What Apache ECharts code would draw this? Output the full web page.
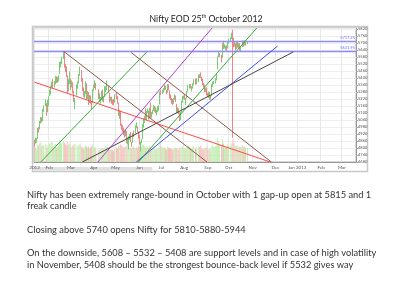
<!DOCTYPE html>
<html><head><meta charset="utf-8">
<script src="https://cdn.jsdelivr.net/npm/echarts@6/dist/echarts.min.js"></script>
<style>html,body{margin:0;padding:0;background:#fff}#c{width:400px;height:300px}</style>
</head><body><div id="c"></div>
<script>
// Daily Nifty candles, one entry per weekday from 12 Jan 2012: [open, close, low, high]; null = market holiday
const jan2012 = [[4860,4831,4813,4868],[4840,4867,4838,4890],[4867,4873,4846,4885],[4880,4967,4878,4971],[4970,4955,4932,4980],[4970,5018,4962,5033],[5030,5049,5010,5066],[5050,5046,5020,5065],[5040,5128,5030,5134],[5130,5158,5110,5166],null,[5170,5205,5158,5217],[5180,5087,5076,5185],[5110,5199,5107,5213]];
const feb2012 = [[5210,5236,5159,5243],[5250,5270,5245,5300],[5280,5326,5260,5335],[5340,5361,5320,5370],[5370,5335,5310,5392],[5340,5368,5320,5375],[5360,5412,5346,5420],[5400,5381,5358,5415],[5380,5390,5360,5410],[5400,5416,5370,5425],[5440,5532,5435,5538],[5520,5521,5490,5545],[5540,5564,5520,5582],null,[5570,5607,5565,5630],[5600,5505,5490,5625],[5500,5483,5450,5520],[5480,5429,5410,5500],[5420,5281,5270,5425],[5290,5375,5285,5390],[5380,5385,5350,5458]];
const mar2012 = [[5380,5339,5300,5395],[5350,5359,5320,5380],[5360,5280,5270,5365],[5270,5222,5195,5290],[5200,5220,5135,5230],null,[5260,5333,5250,5345],[5340,5359,5310,5370],[5360,5429,5355,5435],[5430,5463,5420,5499],[5460,5380,5370,5470],[5390,5318,5290,5400],[5310,5257,5240,5320],[5260,5274,5230,5290],[5270,5364,5265,5372],[5350,5228,5210,5355],[5230,5278,5220,5290],[5270,5184,5170,5280],[5190,5243,5185,5255],[5240,5194,5180,5250],[5190,5178,5135,5200],[5190,5296,5185,5305]];
const apr2012 = [[5300,5317,5290,5345],[5320,5358,5315,5380],[5350,5322,5300,5360],null,null,[5300,5234,5220,5305],[5240,5243,5200,5270],[5220,5226,5180,5240],[5230,5276,5215,5290],[5280,5207,5200,5300],[5200,5226,5190,5240],[5240,5289,5235,5330],[5300,5300,5280,5330],[5310,5333,5295,5380],[5320,5290,5275,5340],[5270,5200,5190,5275],[5210,5222,5200,5240],[5220,5202,5180,5240],[5200,5189,5170,5215],[5200,5190,5165,5220],[5200,5248,5190,5260]];
const may2012 = [null,[5250,5239,5220,5279],[5230,5188,5180,5245],[5180,5087,5075,5190],[5060,5114,5050,5125],[5110,4999,4990,5120],[4990,4974,4955,5010],[4980,4965,4940,4995],[4950,4928,4910,4975],[4930,4907,4890,4950],[4910,4942,4900,4960],[4930,4858,4840,4945],[4870,4870,4830,4890],[4860,4891,4788,4900],[4890,4906,4870,4920],[4920,4861,4850,4935],[4840,4836,4810,4850],[4850,4921,4845,4930],[4930,4920,4895,4950],[4930,4985,4925,4995],[4990,4990,4970,5020],[4980,4950,4935,4985],[4930,4924,4880,4940]];
const jun2012 = [[4910,4841,4830,4915],[4800,4848,4770,4855],[4850,4863,4840,4880],[4880,4997,4878,5005],[4980,5049,4975,5055],[5030,5068,5015,5075],[5090,5054,5045,5140],[5050,5115,5040,5120],[5120,5121,5100,5140],[5110,5054,5045,5120],[5060,5139,5055,5145],[5140,5064,5055,5190],[5070,5103,5060,5110],[5100,5120,5090,5130],[5130,5165,5120,5170],[5140,5146,5110,5160],[5130,5114,5100,5150],[5110,5120,5080,5130],[5125,5141,5110,5160],[5140,5149,5120,5165],[5180,5278,5175,5285]];
const jul2012 = [[5280,5278,5255,5300],[5285,5287,5265,5300],[5290,5303,5275,5315],[5300,5327,5295,5345],[5330,5316,5300,5335],[5290,5275,5260,5300],[5280,5345,5275,5350],[5340,5306,5295,5348],[5290,5235,5225,5295],[5250,5227,5210,5260],[5220,5197,5180,5230],[5200,5192,5170,5220],[5200,5216,5180,5230],[5220,5242,5215,5260],[5240,5205,5195,5250],[5170,5118,5100,5180],[5120,5128,5100,5150],[5130,5109,5090,5140],[5100,5043,5030,5105],[5060,5099,5040,5110],[5110,5199,5105,5205],[5200,5229,5190,5245]];
const aug2012 = [[5230,5240,5220,5250],[5240,5227,5215,5260],[5210,5215,5170,5230],[5230,5282,5225,5290],[5290,5336,5285,5345],[5330,5338,5310,5350],[5340,5322,5310,5350],[5310,5320,5285,5330],[5320,5347,5310,5355],[5350,5380,5340,5390],null,[5380,5362,5345,5395],[5360,5366,5345,5400],null,[5370,5421,5365,5430],[5420,5413,5400,5432],[5420,5415,5400,5448],[5400,5387,5375,5410],[5390,5350,5340,5395],[5350,5334,5320,5360],[5330,5287,5280,5345],[5290,5315,5280,5320],[5310,5258,5250,5320]];
const sep2012 = [[5260,5253,5240,5275],[5250,5274,5230,5285],[5270,5225,5215,5280],[5230,5238,5215,5250],[5250,5342,5245,5350],[5350,5358,5325,5370],[5360,5363,5350,5375],[5365,5390,5355,5400],[5390,5435,5380,5440],[5480,5577,5475,5585],[5590,5610,5580,5630],[5600,5600,5580,5615],null,[5590,5554,5535,5600],[5580,5691,5575,5700],[5690,5669,5650,5720],[5670,5673,5655,5690],[5660,5663,5640,5680],[5660,5649,5630,5680],[5660,5703,5655,5710]];
const oct2012 = [[5710,5718,5695,5735],null,[5725,5731,5710,5750],[5740,5787,5735,5790],[5815,5746,4888,5815],[5740,5677,5665,5745],[5680,5704,5670,5720],[5690,5652,5640,5700],[5660,5708,5650,5715],[5710,5676,5660,5720],[5670,5687,5660,5700],[5690,5648,5635,5700],[5640,5660,5630,5675],[5670,5718,5665,5725],[5710,5684,5670,5720],[5690,5717,5680,5725],[5710,5691,5680,5720],null,[5700,5705,5690,5720]];

// Daily volume (estimated), same weekday order
const volJan = [150,140,120,170,160,180,190,150,170,160,null,175,140,165];
const volFeb = [180,170,190,200,150,160,175,140,150,160,210,190,180,null,200,185,170,160,200,170,180];
const volMar = [150,140,160,170,180,null,160,150,170,180,150,140,130,140,160,150,140,150,130,140,150,170];
const volApr = [140,150,130,null,null,120,130,125,140,130,120,150,140,160,130,120,125,115,120,110,130];
const volMay = [null,140,130,160,150,170,160,150,140,145,150,165,155,140,130,135,140,150,140,130,145,135,150];
const volJun = [150,140,145,170,165,150,140,155,145,135,160,140,130,135,140,125,120,130,140,130,175];
const volJul = [150,140,135,145,130,120,150,140,130,135,125,120,130,140,135,130,125,120,140,135,150,145];
const volAug = [140,130,125,150,160,145,135,130,140,150,null,135,140,null,150,145,160,130,125,120,135,140,150];
const volSep = [120,130,125,140,170,150,145,155,160,230,200,170,null,160,220,180,150,140,145,170];
const volOct = [160,null,170,190,215,180,160,150,165,140,150,145,140,165,145,150,140,null,135];

// Horizontal levels and last price
const levelLines = [5717.25, 5631.95];
const lastPrice = 5705.3;

// Trend lines: [[startIndex, startValue], [endIndex, endValue]]
const lineBrown1 = [[28,5630],[166,4680]];
const lineBrown2 = [[93,5620],[228,4680]];
const lineRed    = [[0,5365],[227,4680]];
const lineGreen1 = [[6,4680],[108,5624]];
const lineGreen2 = [[100,4680],[214,5830]];
const linePurple = [[61,4680],[171,5830]];
const lineBlue   = [[98,4680],[234,5675]];
const lineBlack  = [[46,4680],[249,5624]];

const monthNames = ['Jan','Feb','Mar','Apr','May','Jun','Jul','Aug','Sep','Oct','Nov','Dec'];

const ohlc = [].concat(jan2012,feb2012,mar2012,apr2012,may2012,jun2012,jul2012,aug2012,sep2012,oct2012);
const volume = [].concat(volJan,volFeb,volMar,volApr,volMay,volJun,volJul,volAug,volSep,volOct);

// weekday axis categories, 12 Jan 2012 to Mar 2013
const categories = [];
let d = new Date(Date.UTC(2012,0,12));
while (categories.length < 310) {
  const wd = d.getUTCDay();
  if (wd !== 0 && wd !== 6) categories.push(d.toISOString().slice(0,10));
  d = new Date(d.getTime() + 86400000);
}
function isMonthStart(i){ return i === 0 || categories[i].slice(5,7) !== categories[i-1].slice(5,7); }

const upC = '#72d072', downC = '#f08484';
const upV = '#bfeeb0', downV = '#f8bcbc';
const levelC = '#8c8cff';

const candleData = ohlc.map(r => r ? r : '-');
const volData = volume.map((v,i) => (v == null || !ohlc[i]) ? '-' : {value: v, itemStyle: {color: ohlc[i][1] >= ohlc[i][0] ? upV : downV}});

function trend(data, color){
  return {type:'line', data: data, xAxisIndex:0, yAxisIndex:0, showSymbol:false, symbol:'none', silent:true,
    color:color, lineStyle:{color:color, width:1}, itemStyle:{color:color}, z:5, clip:true, animation:false};
}

const chart = echarts.init(document.getElementById('c'));
chart.setOption({
  animation:false,
  backgroundColor:'#fff',
  textStyle:{fontFamily:'Lato'},
  grid:{left:34, right:44, top:28, bottom:138, show:true, borderColor:'#b0b0b0', borderWidth:1},
  xAxis:{type:'category', data:categories, boundaryGap:true,
    axisLine:{lineStyle:{color:'#999'}}, axisTick:{show:false},
    axisLabel:{fontSize:4.5, color:'#555', margin:3,
      interval:(i)=>isMonthStart(i),
      formatter:(v,i)=>{ if(i===0) return '2012'; const m=+v.slice(5,7)-1; return m===0 ? 'Jan '+v.slice(0,4) : monthNames[m]; }},
    splitLine:{show:true, interval:(i)=>isMonthStart(i), lineStyle:{color:'#e8e8e8', width:1}}
  },
  yAxis:[
    {type:'value', position:'right', min:4680, max:5830, interval:60, scale:true,
      axisLine:{show:true, lineStyle:{color:'#999'}}, axisTick:{show:true, length:2, lineStyle:{color:'#aaa'}},
      axisLabel:{fontSize:4, color:'#555', margin:2, showMaxLabel:false, formatter:(v)=>String(v)},
      splitLine:{show:true, lineStyle:{color:'#eeeeee'}}},
    {type:'value', min:0, max:1300, show:false, splitLine:{show:false}}
  ],
  series:[
    {type:'bar', data:volData, xAxisIndex:0, yAxisIndex:1, barWidth:1, barCategoryGap:'0%', silent:true, z:1},
    {type:'candlestick', data:candleData, barWidth:1, z:3,
      itemStyle:{color:upC, color0:downC, borderColor:upC, borderColor0:downC, borderWidth:1}},
    {type:'line', data:[], xAxisIndex:0, yAxisIndex:0, silent:true, color:levelC, z:4,
      markLine:{symbol:'none', silent:true, animation:false,
        lineStyle:{color:levelC, width:1.3, type:'solid', opacity:1},
        label:{show:true, position:'insideEndTop', fontSize:4, color:'#6a6aff', distance:1},
        data:[
          {yAxis:levelLines[0], lineStyle:{color:levelC}, label:{formatter:levelLines[0].toFixed(2)}},
          {yAxis:levelLines[1], lineStyle:{color:levelC}, label:{formatter:levelLines[1].toFixed(2)}}
        ]}},
    {type:'line', data:[], xAxisIndex:0, yAxisIndex:0, silent:true, z:6,
      markLine:{symbol:'none', silent:true, animation:false,
        lineStyle:{color:'#ffffff', opacity:0, width:0},
        label:{show:true, position:'end', fontSize:4, color:'#333', backgroundColor:'#e8e800', padding:[1,2], distance:1},
        data:[{yAxis:lastPrice, label:{formatter:lastPrice.toFixed(1)}}]}},
    trend(lineBrown1,'#8a5a4c'),
    trend(lineBrown2,'#8a5a4c'),
    trend(lineRed,'#ff4a4a'),
    trend(lineGreen1,'#3aa83a'),
    trend(lineGreen2,'#3aa83a'),
    trend(linePurple,'#b040c8'),
    trend(lineBlue,'#3f4fe8'),
    trend(lineBlack,'#444444')
  ],
  graphic:[
    {type:'rect', shape:{x:32.5, y:26.5, width:335, height:145}, style:{fill:'none', stroke:'#c8c8c8', lineWidth:1.5}, z:-1, silent:true},
    {type:'rect', shape:{x:34, y:167.5, width:118, height:2.5}, style:{fill:'#e2e2e2', stroke:'#d0d0d0', lineWidth:0.5}, silent:true},
    {type:'text', x:206, y:19, style:{text:'{a|Nifty EOD 25}{s|th}{a| October 2012}', textAlign:'center', textVerticalAlign:'middle',
      rich:{a:{fontFamily:'Lato', fontSize:8.7, fill:'#222'}, s:{fontFamily:'Lato', fontSize:5, fill:'#222', padding:[0,0,5,0]}}}},
    {type:'text', x:27, y:195, style:{text:'Nifty has been extremely range-bound in October with 1 gap-up open at 5815 and 1', fontFamily:'Lato', fontSize:9.3, fill:'#333', textVerticalAlign:'middle'}},
    {type:'text', x:27, y:205.5, style:{text:'freak candle', fontFamily:'Lato', fontSize:9.3, fill:'#333', textVerticalAlign:'middle'}},
    {type:'text', x:27, y:230, style:{text:'Closing above 5740 opens Nifty for 5810-5880-5944', fontFamily:'Lato', fontSize:9.3, fill:'#333', textVerticalAlign:'middle'}},
    {type:'text', x:27, y:253, style:{text:'On the downside, 5608 \u2013 5532 \u2013 5408 are support levels and in case of high volatility', fontFamily:'Lato', fontSize:9.3, fill:'#333', textVerticalAlign:'middle'}},
    {type:'text', x:27, y:264.5, style:{text:'in November, 5408 should be the strongest bounce-back level if 5532 gives way', fontFamily:'Lato', fontSize:9.3, fill:'#333', textVerticalAlign:'middle'}}
  ]
});
</script></body></html>
